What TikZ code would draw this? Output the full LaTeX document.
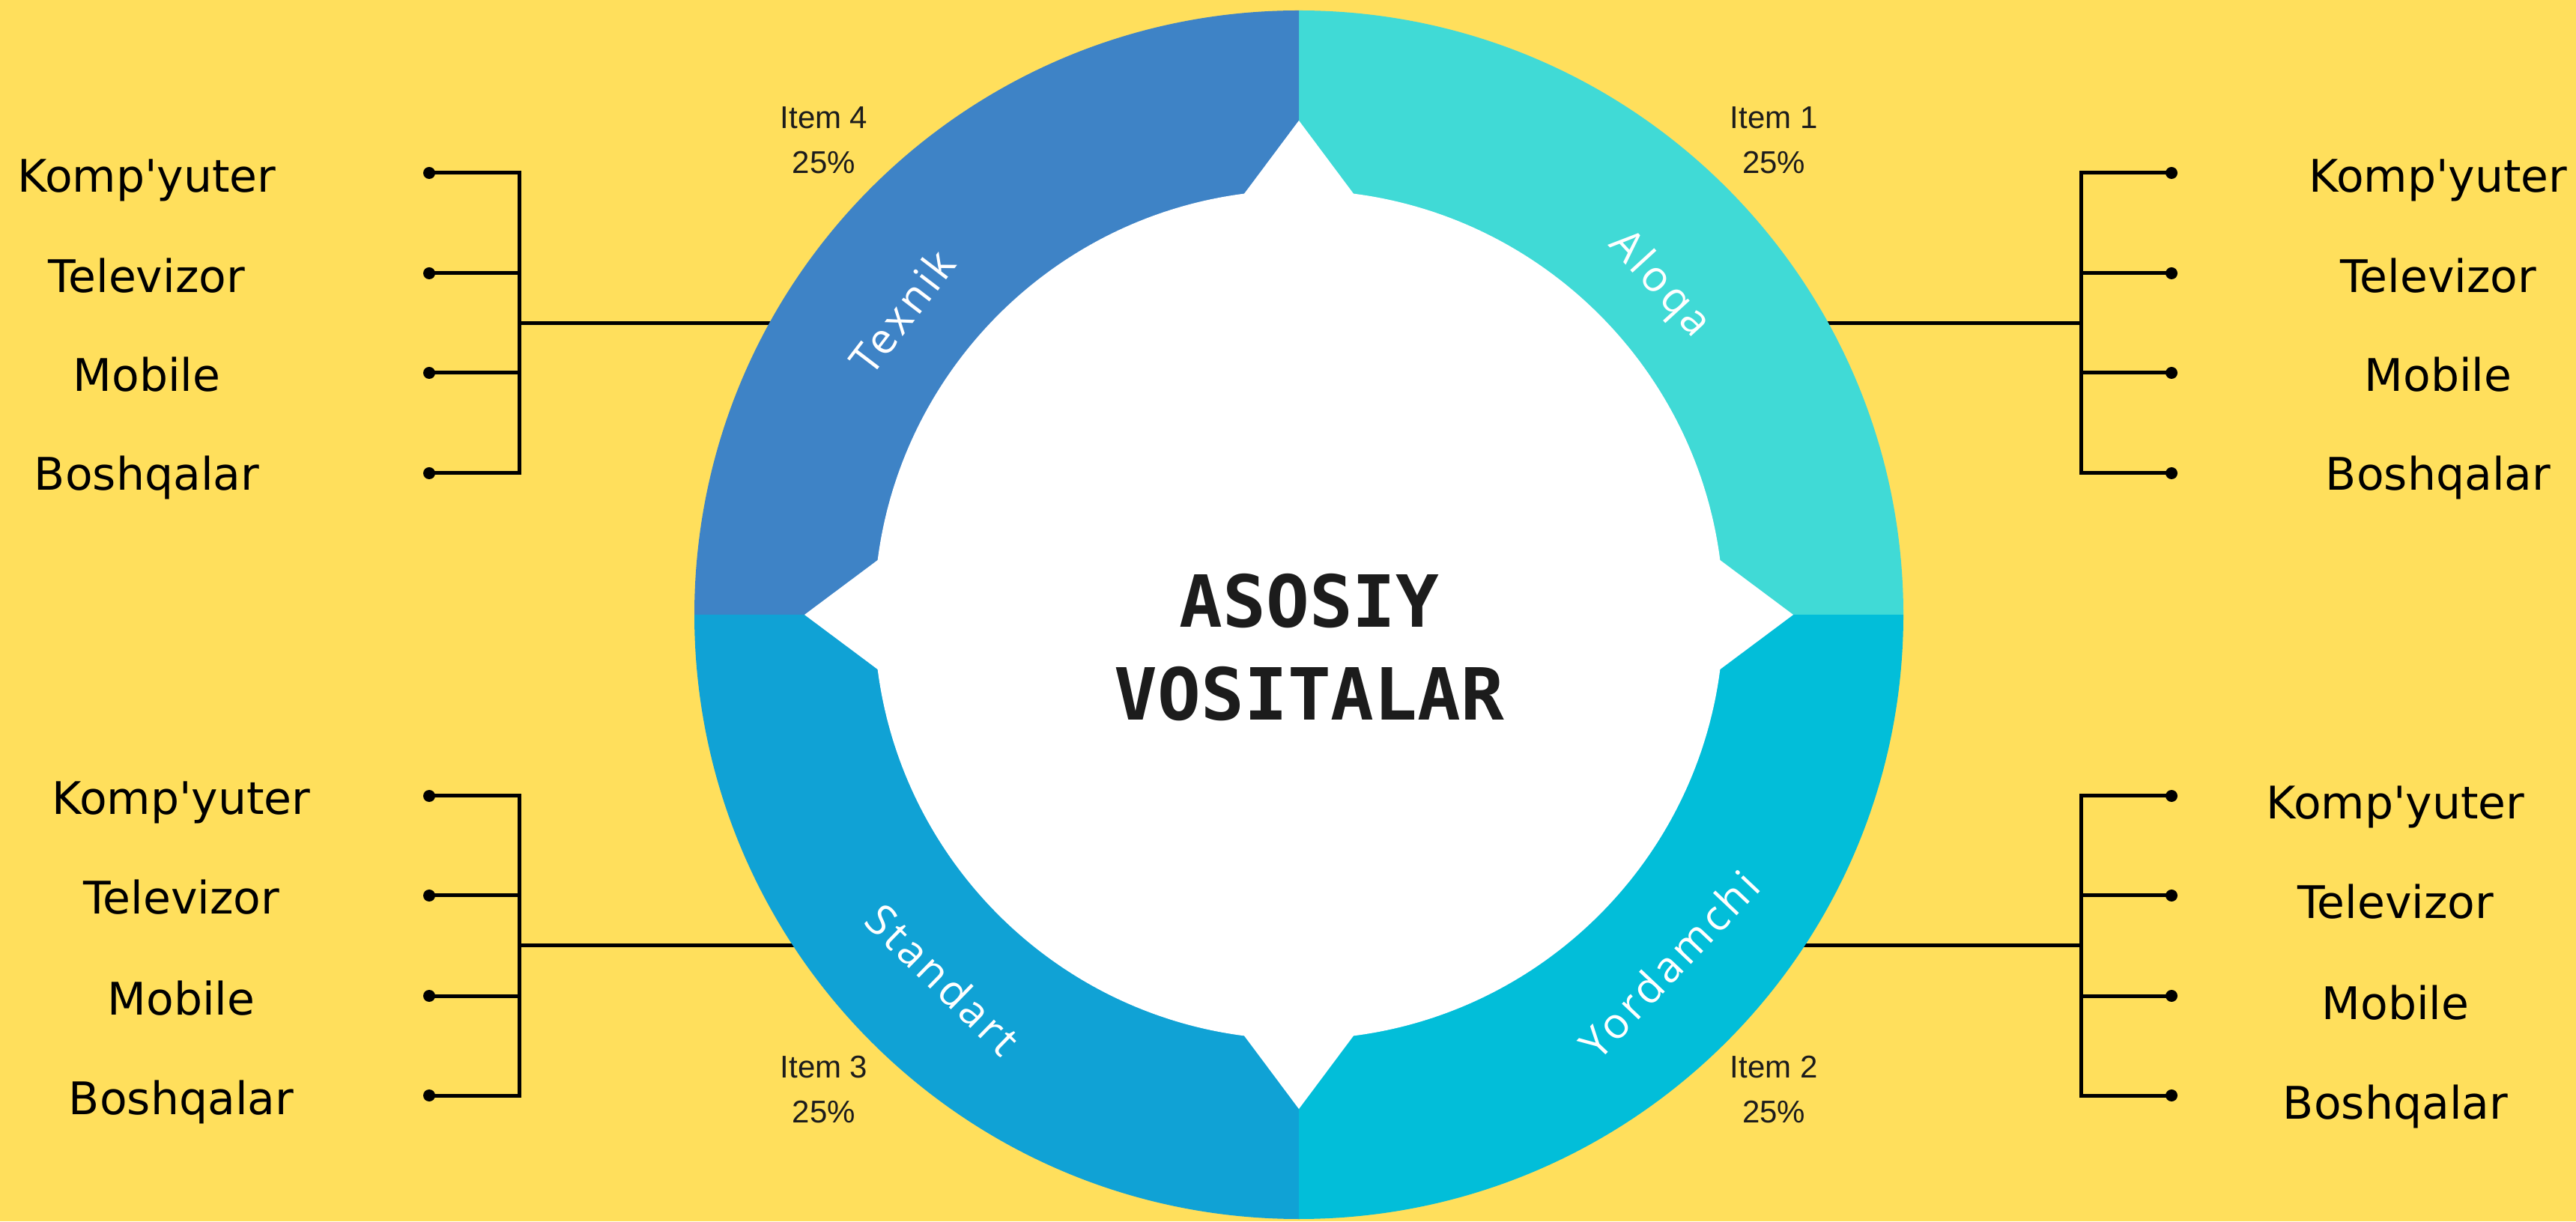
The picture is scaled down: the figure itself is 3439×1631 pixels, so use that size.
\documentclass[tikz,border=0pt]{standalone}
\usepackage{fontspec}
\usetikzlibrary{calc}
\setmainfont{DejaVu Sans}[Ligatures=TeXOff]
\newfontfamily\itemfont{Liberation Sans}
\newfontfamily\titlefont{DejaVu Sans Mono}
\newfontfamily\ringfont[LetterSpace=8]{Open Sans}
\definecolor{bg}{HTML}{FFDF5C}
\definecolor{aloqa}{HTML}{40DAD6}
\definecolor{texnik}{HTML}{3E83C6}
\definecolor{standart}{HTML}{10A2D5}
\definecolor{yordam}{HTML}{02BED9}
\definecolor{ink}{HTML}{1C1C1C}
\tikzset{
  conn/.style={draw=black, line width=5pt, line cap=rect},
  dotnode/.style={circle, fill=black, inner sep=0pt, minimum size=16pt},
  listtext/.style={anchor=base, text=black, font=\fontsize{60}{72}\selectfont, inner sep=0pt},
  itemtext/.style={anchor=base, text=ink, font=\itemfont\fontsize{42}{50}\selectfont, inner sep=0pt},
  ringtext/.style={text=white, font=\ringfont\fontsize{57}{66}\selectfont, inner sep=0pt},
  titletext/.style={anchor=base, text=ink, font=\titlefont\bfseries\fontsize{96}{124}\selectfont, inner sep=0pt}
}
\begin{document}
\begin{tikzpicture}[x=1pt,y=1pt]
\useasboundingbox (0,0) rectangle (3439,1631);
\fill[bg] (0,0) rectangle (3439,1631);
\coordinate (C) at (1734,810);

% ---- connector coordinates ----
% top-left
\coordinate (tlhub) at (693,1199);
\coordinate (tledge) at (1045,1199);
\coordinate (tlv1) at (693,1400);
\coordinate (tlv2) at (693,1266);
\coordinate (tlv3) at (693,1133);
\coordinate (tlv4) at (693,999);
\node[dotnode] (tld1) at (573,1400) {};
\node[dotnode] (tld2) at (573,1266) {};
\node[dotnode] (tld3) at (573,1133) {};
\node[dotnode] (tld4) at (573,999) {};
% top-right
\coordinate (trhub) at (2778,1199);
\coordinate (tredge) at (2425,1199);
\coordinate (trv1) at (2778,1400);
\coordinate (trv2) at (2778,1266);
\coordinate (trv3) at (2778,1133);
\coordinate (trv4) at (2778,999);
\node[dotnode] (trd1) at (2899,1400) {};
\node[dotnode] (trd2) at (2899,1266) {};
\node[dotnode] (trd3) at (2899,1133) {};
\node[dotnode] (trd4) at (2899,999) {};
% bottom-left
\coordinate (blhub) at (693,368);
\coordinate (bledge) at (1075,368);
\coordinate (blv1) at (693,568);
\coordinate (blv2) at (693,435);
\coordinate (blv3) at (693,301);
\coordinate (blv4) at (693,168);
\node[dotnode] (bld1) at (573,568) {};
\node[dotnode] (bld2) at (573,435) {};
\node[dotnode] (bld3) at (573,301) {};
\node[dotnode] (bld4) at (573,168) {};
% bottom-right
\coordinate (brhub) at (2778,368);
\coordinate (bredge) at (2393,368);
\coordinate (brv1) at (2778,568);
\coordinate (brv2) at (2778,435);
\coordinate (brv3) at (2778,301);
\coordinate (brv4) at (2778,168);
\node[dotnode] (brd1) at (2899,568) {};
\node[dotnode] (brd2) at (2899,435) {};
\node[dotnode] (brd3) at (2899,301) {};
\node[dotnode] (brd4) at (2899,168) {};

% ---- connectors ----
\foreach \g in {tl,tr,bl,br}{
  \draw[conn] (\g edge) -- (\g hub);
  \draw[conn] (\g v1) -- (\g v4);
  \foreach \i in {1,2,3,4}{
    \draw[conn, line cap=butt] (\g d\i.center) -- (\g v\i);
  }
}

% ---- ring ----
\fill[aloqa] (C) -- ++(0:807) arc[start angle=0, end angle=90, radius=807] -- cycle;
\fill[texnik] (C) -- ++(90:807) arc[start angle=90, end angle=180, radius=807] -- cycle;
\fill[standart] (C) -- ++(180:807) arc[start angle=180, end angle=270, radius=807] -- cycle;
\fill[yordam] (C) -- ++(270:807) arc[start angle=270, end angle=360, radius=807] -- cycle;
\fill[white] (C) circle[radius=567];
\foreach \t in {0,90,180,270}{
  \fill[white] ($(C)+(\t+7.4:567)$) -- ($(C)+(\t:660)$) -- ($(C)+(\t-7.4:567)$) -- ($(C)+(\t:480)$) -- cycle;
}

% ---- ring labels ----
\node[ringtext, rotate=-47.5] (laloqa) at ($(C)+(42.5:652)$) {Aloqa};
\node[ringtext, rotate=52.6] (ltexnik) at ($(C)+(142.6:667)$) {Texnik};
\node[ringtext, rotate=-44.3] (lstandart) at ($(C)+(225.7:680)$) {Standart};
\node[ringtext, rotate=46.6] (lyordam) at ($(C)+(316.6:680)$) {Yordamchi};

% ---- title ----
\node[titletext] (title1) at (1748,793) {ASOSIY};
\node[titletext] (title2) at (1748,669) {VOSITALAR};

% ---- item labels ----
\node[itemtext] (i4a) at (1100,1459) {Item 4};
\node[itemtext] (i4b) at (1100,1399) {25\%};
\node[itemtext] (i1a) at (2368,1459) {Item 1};
\node[itemtext] (i1b) at (2368,1399) {25\%};
\node[itemtext] (i3a) at (1100,192) {Item 3};
\node[itemtext] (i3b) at (1100,132) {25\%};
\node[itemtext] (i2a) at (2368,192) {Item 2};
\node[itemtext] (i2b) at (2368,132) {25\%};

% ---- list texts ----
\node[listtext] (tlt1) at (196,1374) {Komp'yuter};
\node[listtext] (tlt2) at (196,1240) {Televizor};
\node[listtext] (tlt3) at (196,1108) {Mobile};
\node[listtext] (tlt4) at (196,976) {Boshqalar};
\node[listtext] (trt1) at (3255,1374) {Komp'yuter};
\node[listtext] (trt2) at (3255,1240) {Televizor};
\node[listtext] (trt3) at (3255,1108) {Mobile};
\node[listtext] (trt4) at (3255,976) {Boshqalar};
\node[listtext] (blt1) at (242,543) {Komp'yuter};
\node[listtext] (blt2) at (242,410) {Televizor};
\node[listtext] (blt3) at (242,276) {Mobile};
\node[listtext] (blt4) at (242,143) {Boshqalar};
\node[listtext] (brt1) at (3198,537) {Komp'yuter};
\node[listtext] (brt2) at (3198,404) {Televizor};
\node[listtext] (brt3) at (3198,270) {Mobile};
\node[listtext] (brt4) at (3198,137) {Boshqalar};
\end{tikzpicture}
\end{document}
